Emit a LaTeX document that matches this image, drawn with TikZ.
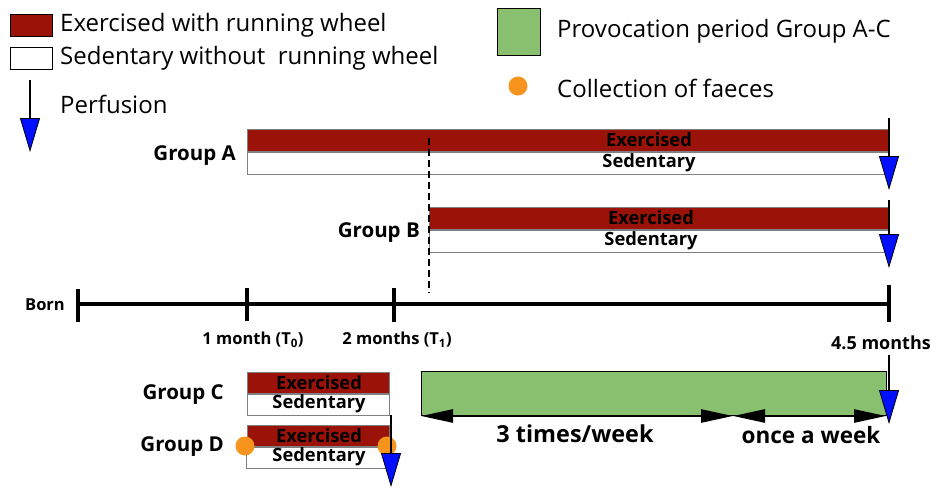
\documentclass[tikz,border=0pt]{standalone}
\usepackage{fontspec}
\setmainfont{Open Sans}
\usetikzlibrary{arrows.meta}
\definecolor{exred}{HTML}{9B1208}
\definecolor{provgreen}{HTML}{88C070}
\definecolor{faeces}{HTML}{F7941D}
\definecolor{perfblue}{HTML}{0010FF}
\begin{document}
\begin{tikzpicture}[x=1pt,y=-1pt,
  bar/.style={draw=black!50, line width=0.8pt, inner sep=0pt, anchor=north west},
  exbar/.style={bar, fill=exred},
  sedbar/.style={bar, fill=white},
  bartext/.style={font=\bfseries\fontsize{18.3}{18.3}\selectfont, inner sep=0pt},
  grp/.style={font=\bfseries\fontsize{20.5}{20.5}\selectfont, anchor=east, inner sep=0pt},
  tick/.style={font=\bfseries\fontsize{16.5}{16.5}\selectfont, inner sep=0pt},
  legtext/.style={font=\fontsize{24}{24}\selectfont, anchor=west, inner sep=0pt},
  perf/.style={line width=2.6pt, -{Triangle[width=20pt,length=34pt,fill=perfblue,line width=0.8pt]}},
  period/.style={line width=2.6pt, {Triangle[width=13pt,length=32pt]}-{Triangle[width=13pt,length=32pt]}},
  axis/.style={line width=4pt},
  dot/.style={circle, fill=faeces, minimum size=19pt, inner sep=0pt}
]
\useasboundingbox (0,0) rectangle (936,488);

% ---------- legend ----------
\node[bar, draw=black, line width=1pt, fill=exred, minimum width=42pt, minimum height=22pt] (legex) at (10,14) {};
\node[legtext] (legextxt) at (60,25) {Exercised with running wheel};
\node[bar, draw=black, line width=1pt, fill=white, minimum width=42pt, minimum height=22pt] (legsed) at (10,47) {};
\node[legtext] (legsedtxt) at (60,58) {Sedentary without\ \ running wheel};
\coordinate (legpa) at (30,80);
\coordinate (legpb) at (30,152);
\draw[perf] (legpa) -- (legpb);
\node[legtext] (legperf) at (60,104) {Perfusion};

\node[bar, draw=black, line width=1.2pt, fill=provgreen, minimum width=43pt, minimum height=47pt] (leggreen) at (497,8) {};
\node[legtext] (leggreentxt) at (557,31) {Provocation period Group A-C};
\node[dot] (legdot) at (518,86) {};
\node[legtext] (legdottxt) at (557,88) {Collection of faeces};

% ---------- group A ----------
\node[grp] (ga) at (236,156) {Group A};
\node[exbar, minimum width=642pt, minimum height=22pt] (aex) at (247,129) {};
\node[sedbar, minimum width=642pt, minimum height=22pt] (ased) at (247,152) {};
\node[bartext] at (649,140) {Exercised};
\node[bartext] at (649,163) {Sedentary};

% ---------- group B ----------
\node[grp] (gb) at (420,233) {Group B};
\node[exbar, minimum width=460pt, minimum height=22pt] (bex) at (429,207) {};
\node[sedbar, minimum width=460pt, minimum height=22pt] (bsed) at (429,230) {};
\node[bartext] at (651,218) {Exercised};
\node[bartext] at (651,241) {Sedentary};

% dashed line
\coordinate (dsa) at (429,138);
\coordinate (dsb) at (429,293);
\draw[line width=1.6pt, dash pattern=on 7pt off 4pt] (dsa) -- (dsb);

% perfusion arrows A, B
\coordinate (pa1) at (889,118); \coordinate (pa2) at (889,190);
\draw[perf] (pa1) -- (pa2);
\coordinate (pb1) at (889,200); \coordinate (pb2) at (889,268);
\draw[perf] (pb1) -- (pb2);

% ---------- timeline ----------
\coordinate (t0) at (78,304);
\coordinate (tend) at (889,304);
\draw[axis] (t0) -- (tend);
\draw[axis] (78,289) -- (78,322);
\draw[axis] (247,288) -- (247,321);
\draw[axis] (394,288) -- (394,322);
\draw[axis] (889,285) -- (889,322);
\node[tick, anchor=east] (born) at (65,305) {Born};
\node[tick] (m1) at (253,340) {1 month (T\textsubscript{0})};
\node[tick] (m2) at (397,340) {2 months (T\textsubscript{1})};
\node[tick, font=\bfseries\fontsize{18}{18}\selectfont] (m45) at (881,343) {4.5 months};

% ---------- group C / D ----------
\node[grp] (gc) at (224,395) {Group C};
\node[exbar, minimum width=142pt, minimum height=21pt] (cex) at (247,372) {};
\node[sedbar, minimum width=142pt, minimum height=21pt] (csed) at (247,394) {};
\node[bartext] at (319,383) {Exercised};
\node[bartext] at (319,404) {Sedentary};

\node[grp] (gd) at (224,447) {Group D};
\node[exbar, minimum width=142pt, minimum height=21pt] (dex) at (247,425) {};
\node[sedbar, minimum width=143pt, minimum height=21pt] (dsed) at (246,447) {};
\node[bartext] at (319,436) {Exercised};
\node[bartext] at (319,457) {Sedentary};
\node[dot] (dd1) at (245,446) {};
\node[dot] (dd2) at (387,446) {};

\coordinate (pc1) at (391,415); \coordinate (pc2) at (391,487);
\draw[perf] (pc1) -- (pc2);

% ---------- provocation period ----------
\node[bar, draw=black, line width=1pt, fill=provgreen, minimum width=465pt, minimum height=44pt] (prov) at (421,371) {};
\coordinate (w0) at (421,416);
\coordinate (w1) at (733,416);
\coordinate (w2) at (886,416);
\draw[period] (w0) -- (w1);
\draw[period] (w1) -- (w2);
\node[font=\bfseries\fontsize{23.4}{23.4}\selectfont, inner sep=0pt] (three) at (575,434) {3 times/week};
\node[font=\bfseries\fontsize{22.5}{22.5}\selectfont, inner sep=0pt] (once) at (811,435) {once a week};

\coordinate (pd1) at (889,355); \coordinate (pd2) at (889,424);
\draw[perf] (pd1) -- (pd2);
\end{tikzpicture}
\end{document}
